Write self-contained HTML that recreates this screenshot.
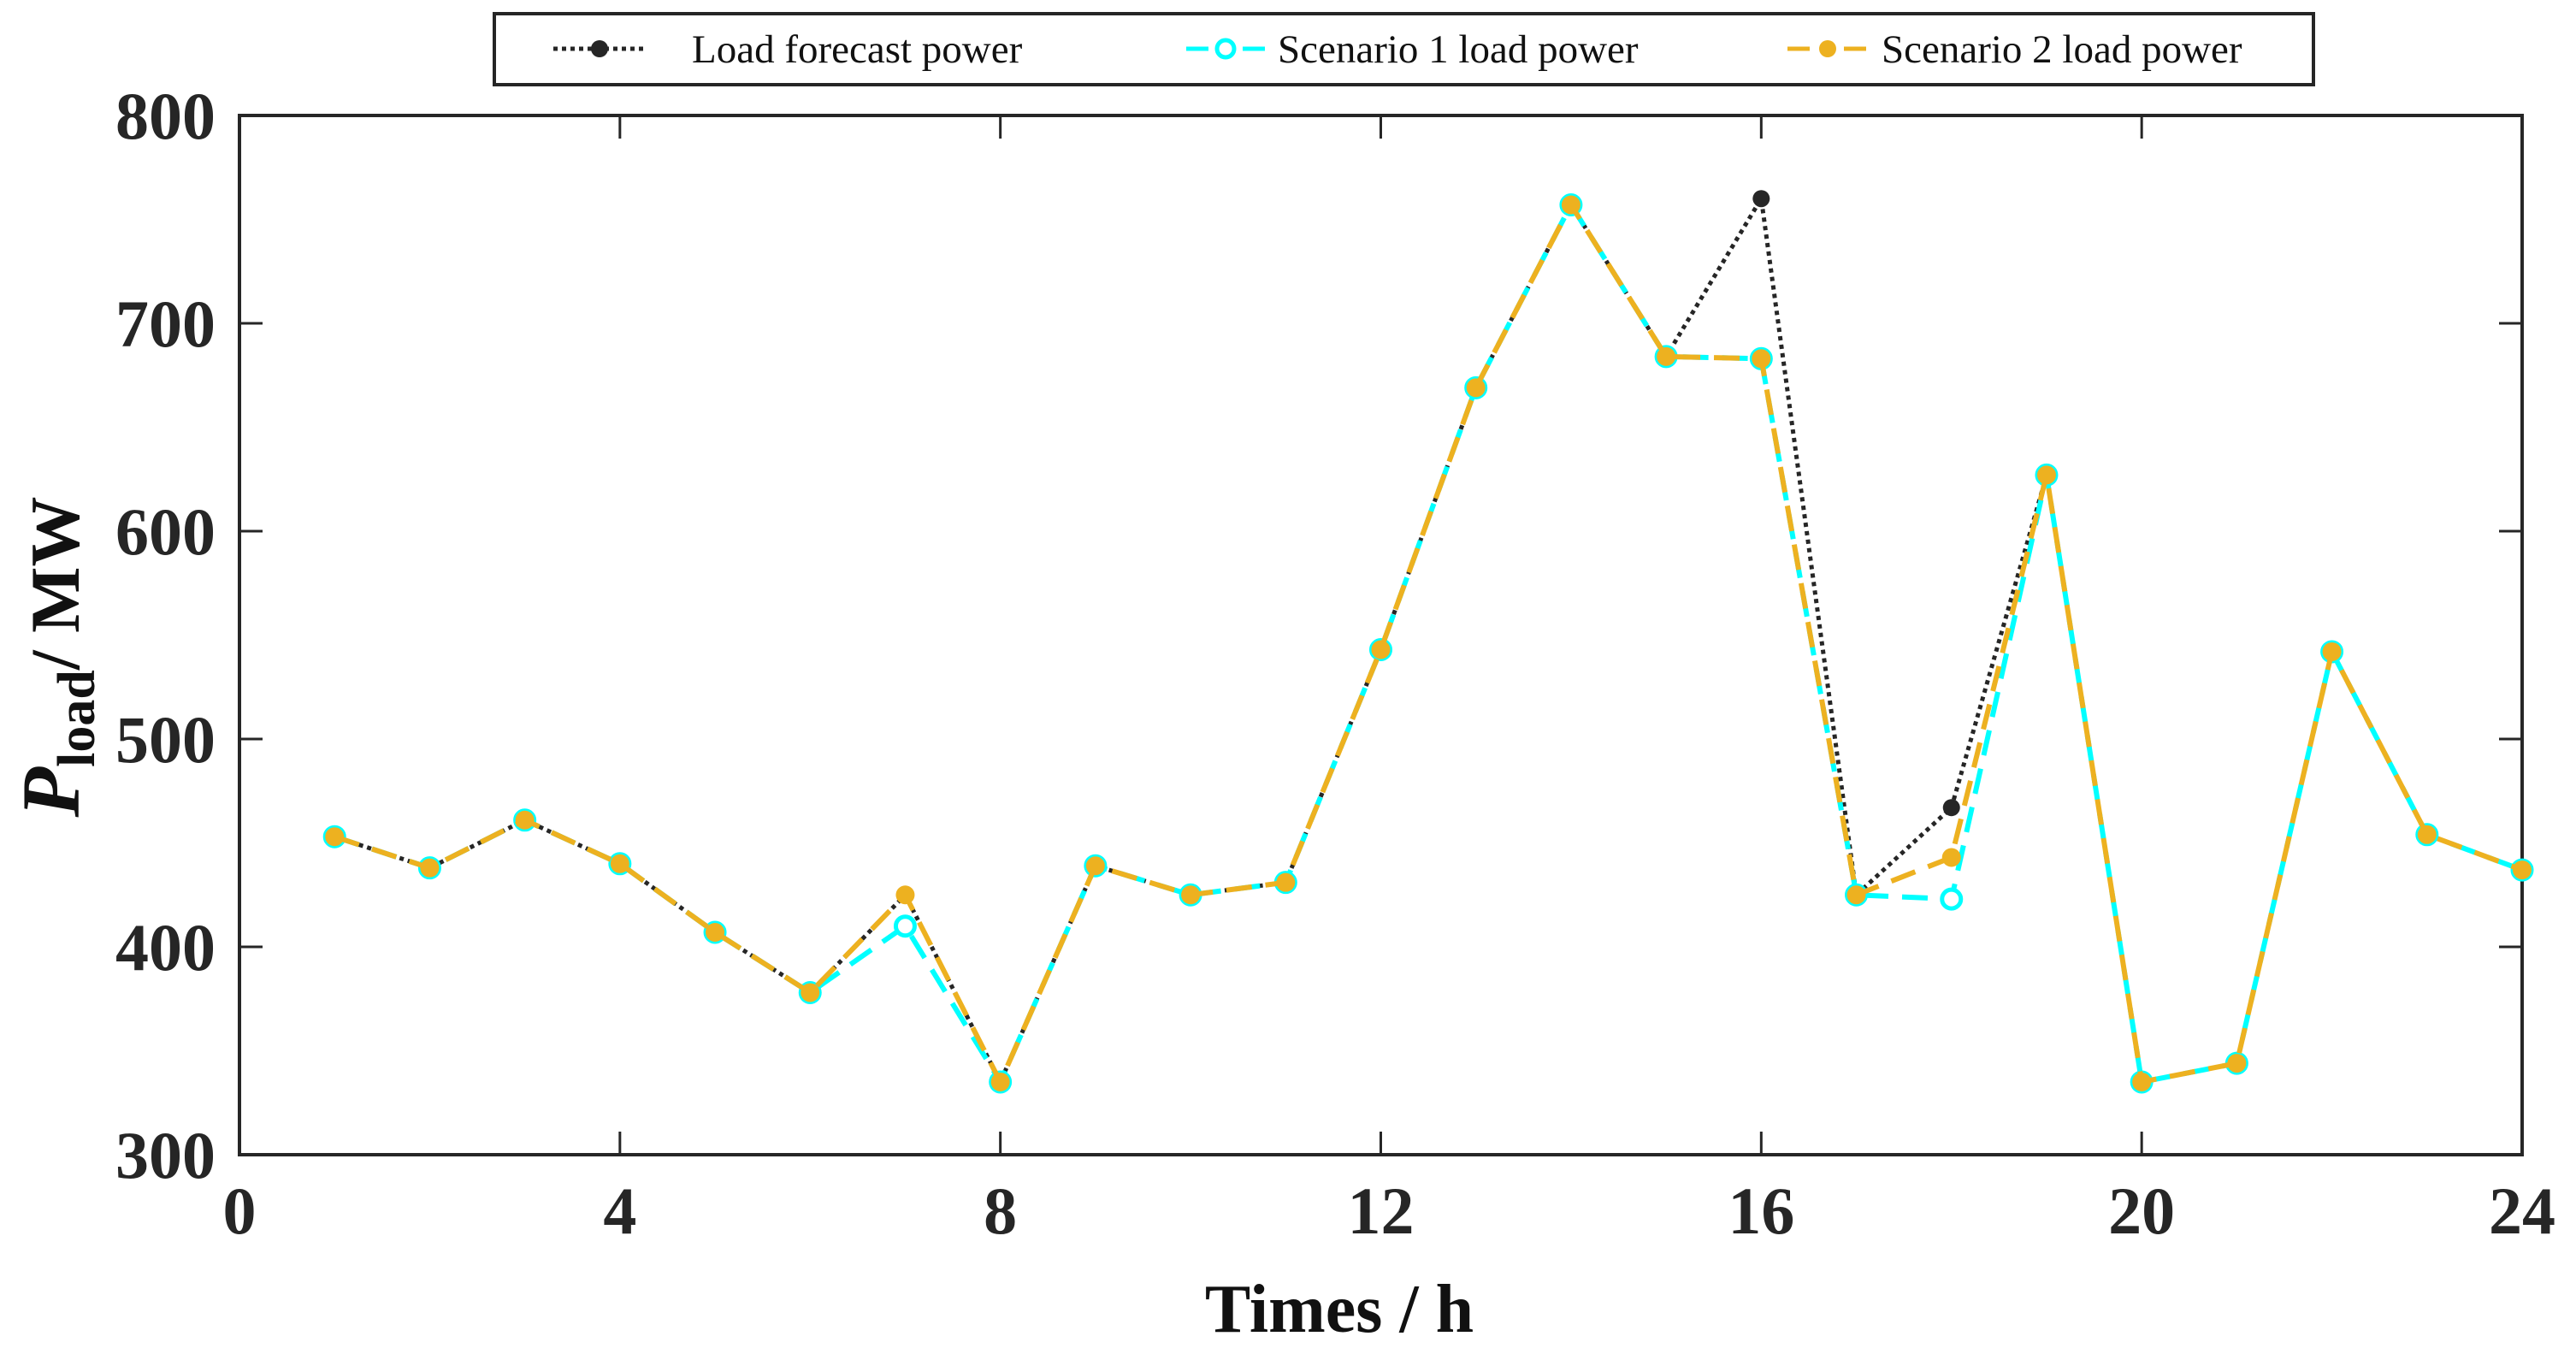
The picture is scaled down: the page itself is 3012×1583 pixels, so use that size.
<!DOCTYPE html>
<html><head><meta charset="utf-8"><style>
html,body{margin:0;padding:0;background:#fff;}
svg{display:block;font-family:"Liberation Serif",serif;}
</style></head><body>
<svg id="chart" width="3012" height="1583" viewBox="0 0 3012 1583" xmlns="http://www.w3.org/2000/svg">
<g id="axes"></g>
<g id="series"></g>
<g id="legend"></g>
</svg>
<script>
const hours = [1,2,3,4,5,6,7,8,9,10,11,12,13,14,15,16,17,18,19,20,21,22,23,24];
const forecast = [453,438,461,440,407,378,425,335,439,425,431,543,669,757,684,760,425,467,627,335,344,542,454,437];
const scenario1 = [453,438,461,440,407,378,410,335,439,425,431,543,669,757,684,683,425,423,627,335,344,542,454,437];
const scenario2 = [453,438,461,440,407,378,425,335,439,425,431,543,669,757,684,683,425,443,627,335,344,542,454,437];
const xTicks = [0,4,8,12,16,20,24];
const yTicks = [300,400,500,600,700,800];

const NS="http://www.w3.org/2000/svg";
const L=280,R=2949,T=135,B=1350;
const X=v=>L+(v-0)/(24-0)*(R-L);
const Y=v=>B-(v-300)/(800-300)*(B-T);
function mk(tag,attrs,parent){const e=document.createElementNS(NS,tag);for(const k in attrs)e.setAttribute(k,attrs[k]);parent.appendChild(e);return e;}
const axes=document.getElementById('axes'),series=document.getElementById('series'),legend=document.getElementById('legend');

const frame=mk('rect',{x:L,y:T,width:R-L,height:B-T,fill:'none',stroke:'#262626','stroke-width':4},axes);


xTicks.forEach(t=>{
  const g=mk('g',{},axes);
  
  
  mk('line',{x1:X(t),x2:X(t),y1:B,y2:B-27,stroke:'#262626','stroke-width':3},g);
  mk('line',{x1:X(t),x2:X(t),y1:T,y2:T+27,stroke:'#262626','stroke-width':3},g);
  const tx=mk('text',{x:X(t),y:1442,'text-anchor':'middle','font-size':78,'font-weight':'bold',fill:'#262626'},g);
  tx.textContent=t;
});
yTicks.forEach(t=>{
  const g=mk('g',{},axes);
  
  
  mk('line',{x1:L,x2:L+27,y1:Y(t),y2:Y(t),stroke:'#262626','stroke-width':3},g);
  mk('line',{x1:R,x2:R-27,y1:Y(t),y2:Y(t),stroke:'#262626','stroke-width':3},g);
  const tx=mk('text',{x:252,y:Y(t)+27,'text-anchor':'end','font-size':78,'font-weight':'bold',fill:'#262626'},g);
  tx.textContent=t;
});
const xt=mk('text',{x:1566,y:1557,'text-anchor':'middle','font-size':80,'font-weight':'bold',fill:'#111'},axes);


xt.textContent='Times / h';
const yt=mk('text',{x:0,y:0,'text-anchor':'middle','font-size':82,'font-weight':'bold',fill:'#111',transform:'translate(92,768) rotate(-90)'},axes);


yt.innerHTML='<tspan font-style="italic" font-size="96">P</tspan><tspan font-size="62" dy="18">load</tspan><tspan dy="-18">/  MW</tspan>';

function line(vals,color,dash,width,name){
  const p=mk('polyline',{points:hours.map((h,i)=>X(h)+','+Y(vals[i])).join(' '),fill:'none',stroke:color,'stroke-width':width,'stroke-dasharray':dash},series);
  
  
}
line(forecast,'#262626','5 5',5,'forecast-line');
hours.forEach((h,i)=>{const c=mk('circle',{cx:X(h),cy:Y(forecast[i]),r:10,fill:'#262626'},series);

});
line(scenario1,'#00FFFF','30 16',6,'scenario1-line');
hours.forEach((h,i)=>{const c=mk('circle',{cx:X(h),cy:Y(scenario1[i]),r:11,fill:'#fff',stroke:'#00FFFF','stroke-width':5},series);

});
line(scenario2,'#EDB120','30 16',6,'scenario2-line');
hours.forEach((h,i)=>{const c=mk('circle',{cx:X(h),cy:Y(scenario2[i]),r:11,fill:'#EDB120'},series);

});

const lb=mk('rect',{x:578,y:16,width:2127,height:83,fill:'#fff',stroke:'#262626','stroke-width':4},legend);


function entry(x1,x2,tx,label,color,dash,kind,name){
  const g=mk('g',{},legend);
  
  
  mk('line',{x1:x1,x2:x2,y1:57,y2:57,stroke:color,'stroke-width':5,'stroke-dasharray':dash},g);
  const cx=(x1+x2)/2;
  if(kind==='dot')mk('circle',{cx:cx,cy:57,r:10,fill:color},g);
  else if(kind==='open')mk('circle',{cx:cx,cy:57,r:10,fill:'#fff',stroke:color,'stroke-width':5},g);
  else mk('circle',{cx:cx,cy:57,r:10,fill:color},g);
  const t=mk('text',{x:tx,y:73,'font-size':47,fill:'#111'},g);
  t.textContent=label;
}
entry(647,755,809,'Load forecast power','#262626','5 5','dot','legend-entry-forecast');
entry(1387,1479,1494,'Scenario 1 load power','#00FFFF','26 40','open','legend-entry-scenario1');
entry(2090,2184,2200,'Scenario 2 load power','#EDB120','26 40','star','legend-entry-scenario2');
</script>
</body></html>
